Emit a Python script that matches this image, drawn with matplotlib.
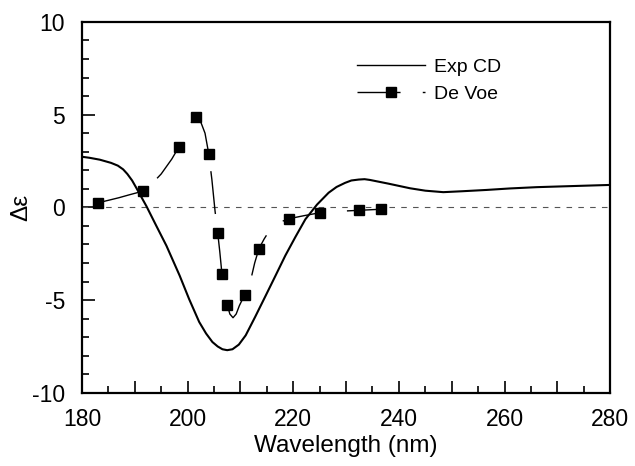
import matplotlib
matplotlib.use("Agg")
import matplotlib.pyplot as plt
from matplotlib.ticker import MultipleLocator, FuncFormatter

plt.rcParams['font.family'] = ['Liberation Sans', 'DejaVu Sans']
plt.rcParams['lines.scale_dashes'] = False
plt.rcParams['axes.unicode_minus'] = False

exp_x = [180, 181.5, 183.4, 185.5, 186.8, 187.8, 188.6, 189.5, 190.3, 191.5, 192.2, 194,
         196, 198.5, 200.3, 202.2, 203.5, 204.7, 205.7, 206.6, 207.5, 208.5, 209.7,
         211, 212.8, 214.8, 216.7, 218.5, 220.4, 222.3, 224.5, 226.7, 228.2, 229.8,
         231, 232.4, 233.5, 234.5, 238, 242.1, 245, 248.4, 252, 256.6, 261, 266.1,
         273, 280]
exp_y = [2.73, 2.67, 2.57, 2.4, 2.25, 2.05, 1.8, 1.45, 1.05, 0.43, 0.07, -0.95,
         -2.07, -3.68, -4.95, -6.18, -6.8, -7.26, -7.5, -7.65, -7.7, -7.65, -7.4,
         -6.9, -5.9, -4.75, -3.65, -2.6, -1.6, -0.64, 0.15, 0.79, 1.1, 1.32,
         1.45, 1.5, 1.52, 1.48, 1.28, 1.03, 0.9, 0.82, 0.87, 0.94, 1.02, 1.09,
         1.15, 1.21]

# De Voe calculated curve
devoe_x = [183.1, 185, 187, 189, 191.5, 193, 195, 197, 198.3, 199.5, 200.5, 201.5,
           202.5, 203.3, 204.0, 204.6, 205.2, 205.7, 206.1, 206.5, 207.0, 207.5,
           208.0, 208.6, 209.2, 209.8, 210.4, 210.9, 211.8, 212.7, 213.5, 214.5,
           215.5, 217, 219.2, 222, 225, 228, 232.4, 234.5, 236.7]
devoe_y = [0.25, 0.38, 0.52, 0.68, 0.87, 1.2, 1.8, 2.6, 3.23, 3.95, 4.5, 4.88,
           4.6, 4.0, 2.9, 1.5, -0.2, -1.36, -2.4, -3.57, -4.6, -5.24,
           -5.75, -5.95, -5.75, -5.3, -4.95, -4.74, -4.1, -3.0, -2.23, -1.7,
           -1.25, -0.85, -0.61, -0.45, -0.29, -0.22, -0.16, -0.13, -0.1]

# De Voe calculated points (markers)
pts_x = [183.1, 191.5, 198.3, 201.5, 204.0, 205.7, 206.5, 207.5, 210.9, 213.5,
         219.2, 225.0, 232.4, 236.7]
pts_y = [0.25, 0.87, 3.23, 4.88, 2.9, -1.36, -3.57, -5.24, -4.74, -2.23,
         -0.61, -0.29, -0.16, -0.1]

fig = plt.figure(figsize=(6.35, 4.66), dpi=100)
ax = fig.add_axes([0.129, 0.157, 0.832, 0.796])

ax.axhline(0, color='#555555', lw=0.8, dashes=(4, 4.5))
ax.plot(exp_x, exp_y, color='black', lw=1.5)
ax.plot(devoe_x, devoe_y, color='black', lw=1.0, dashes=(31, 16))
ax.plot(pts_x, pts_y, 's', color='black', ms=7, ls='none')

# legend handles
h1, = ax.plot([], [], color='black', lw=1.0)
h2, = ax.plot([], [], color='black', lw=1.0, dashes=(31, 16), marker='s', ms=7)
ax.legend([h1, h2], ['Exp CD', 'De Voe'], loc='upper left',
          bbox_to_anchor=(0.487, 0.95), frameon=False, fontsize=14,
          handlelength=3.5, handletextpad=0.45, labelspacing=0.5,
          numpoints=1)

ax.set_xlim(180, 280)
ax.set_ylim(-10, 10)
ax.xaxis.set_major_locator(MultipleLocator(10))
ax.xaxis.set_minor_locator(MultipleLocator(5))
ax.xaxis.set_major_formatter(FuncFormatter(lambda v, p: '%d' % v if v % 20 == 0 else ''))
ax.yaxis.set_major_locator(MultipleLocator(5))
ax.yaxis.set_minor_locator(MultipleLocator(1))
ax.tick_params(which='both', direction='in', labelsize=16.5, width=1.2)
ax.tick_params(which='major', length=9)
ax.tick_params(which='minor', length=5)
ax.tick_params(axis='x', pad=11)
ax.tick_params(axis='y', pad=12)
for s in ax.spines.values():
    s.set_linewidth(1.6)

ax.set_xlabel('Wavelength (nm)', fontsize=17.5, labelpad=3)
ax.set_ylabel('Δε', fontsize=17.5, labelpad=0)

fig.savefig('out.png', dpi=100)
